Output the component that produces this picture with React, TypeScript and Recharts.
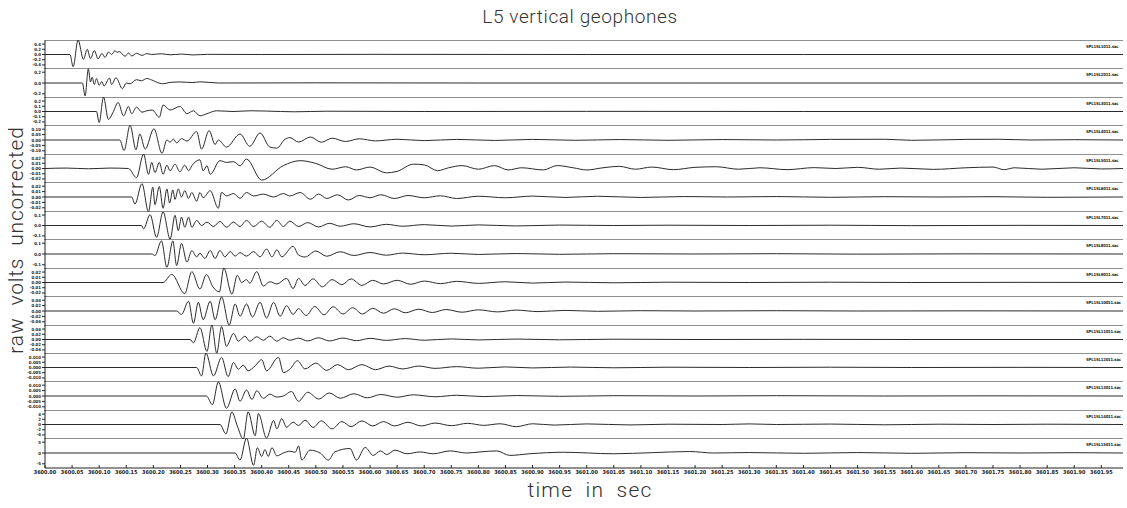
import React from 'react';
import { LineChart, Line, XAxis, YAxis } from 'recharts';

// time origin (s); trace samples are [ms after T0, normalized amplitude]
const T0 = 3600;

const X_TICKS = [
  3600.0, 3600.05, 3600.1, 3600.15, 3600.2, 3600.25, 3600.3, 3600.35, 3600.4, 3600.45,
  3600.5, 3600.55, 3600.6, 3600.65, 3600.7, 3600.75, 3600.8, 3600.85, 3600.9, 3600.95,
  3601.0, 3601.05, 3601.1, 3601.15, 3601.2, 3601.25, 3601.3, 3601.35, 3601.4, 3601.45,
  3601.5, 3601.55, 3601.6, 3601.65, 3601.7, 3601.75, 3601.8, 3601.85, 3601.9, 3601.95,
];

const STATIONS = [
  'SPL1SL1011.sac', 'SPL1SL2011.sac', 'SPL1SL3011.sac', 'SPL1SL4011.sac', 'SPL1SL5011.sac',
  'SPL1SL6011.sac', 'SPL1SL7011.sac', 'SPL1SL8011.sac', 'SPL1SL9011.sac', 'SPL1SL10011.sac',
  'SPL1SL11011.sac', 'SPL1SL12011.sac', 'SPL1SL13011.sac', 'SPL1SL14011.sac', 'SPL1SL15011.sac',
];

const yLabels01 = ['0.4', '0.2', '0.0', '-0.2', '-0.4'];
const yLabels02 = ['0.2', '0.0', '-0.2'];
const yLabels03 = ['0.2', '0.1', '0.0', '-0.1', '-0.2'];
const yLabels04 = ['0.10', '0.05', '0.00', '-0.05', '-0.10'];
const yLabels05 = ['0.02', '0.01', '0.00', '-0.01', '-0.02'];
const yLabels06 = ['0.02', '0.01', '0.00', '-0.01', '-0.02'];
const yLabels07 = ['0.1', '0.0', '-0.1'];
const yLabels08 = ['0.1', '0.0', '-0.1'];
const yLabels09 = ['0.02', '0.01', '0.00', '-0.01', '-0.02'];
const yLabels10 = ['0.04', '0.02', '0.00', '-0.02', '-0.04'];
const yLabels11 = ['0.04', '0.02', '0.00', '-0.02', '-0.04'];
const yLabels12 = ['0.010', '0.005', '0.000', '-0.005', '-0.010'];
const yLabels13 = ['0.010', '0.005', '0.000', '-0.005', '-0.010'];
const yLabels14 = ['4', '2', '0', '-2', '-4'];
const yLabels15 = ['5', '0', '-5'];

type Pt = [number, number];

const trace01: Pt[] = [[0,0],[46,0],[52,-0.84],[61,1.0],[71,-0.33],[78,0.36],[84,-0.29],[91,0.27],[98,-0.3],[105,0.07],[111,-0.2],[117,0.17],[123,0.0],[129,0.26],[133,0.15],[137,0.2],[148,-0.12],[154,0.1],[160,-0.1],[169,0.08],[179,-0.06],[188,0.06],[197,0],[215,0.05],[231,-0.02],[252,0.03],[273,-0.03],[300,0.01],[400,0],[600,0.01],[1000,0],[1400,0],[1990,0]];

const trace02: Pt[] = [[0,0],[69,0],[74,-0.86],[80,0.94],[84,0.07],[87,0.38],[91,-0.1],[95,0.3],[100,-0.15],[105,0.1],[109,-0.2],[119,0.33],[123,-0.1],[131,0.35],[143,-0.38],[150,0],[157,-0.05],[169,0.22],[178,0.15],[188,0.3],[197,0.2],[212,-0.02],[218,-0.05],[231,0.04],[249,0.07],[273,0.03],[286,0.08],[320,0],[500,0.01],[800,0],[1200,0],[1990,0]];

const trace03: Pt[] = [[0,0],[95,0],[100,-0.76],[108,1.0],[117,-0.55],[125,-0.1],[135,0.62],[145,-0.3],[154,0.35],[160,-0.15],[169,0.3],[179,-0.05],[188,0.05],[198,0.1],[211,-0.4],[218,0.45],[231,0.1],[249,0.35],[262,-0.15],[274,0.05],[286,-0.3],[299,-0.15],[317,0.05],[347,0],[380,0.05],[409,0.03],[460,-0.02],[520,0.02],[700,0],[1000,0.01],[1400,0],[1990,0]];

const trace04: Pt[] = [[0,0],[138,0],[146,-0.7],[157,0.98],[168,-0.65],[175,0.4],[185,-0.61],[201,0.75],[216,-0.89],[225,0],[231,-0.14],[237,0.05],[243,-0.19],[252,0.09],[262,-0.07],[280,0.56],[289,-0.61],[303,0.63],[314,-0.3],[320,0],[335,-0.47],[360,0.4],[378,-0.42],[397,0.47],[415,-0.47],[428,-0.54],[443,0.05],[452,0.16],[468,-0.14],[490,0.2],[510,-0.15],[530,0.12],[555,-0.1],[580,0.08],[610,-0.06],[650,0.05],[700,-0.04],[760,0.04],[830,-0.03],[900,0.04],[980,-0.02],[1060,0.03],[1150,-0.02],[1250,0.03],[1350,0],[1450,0.04],[1550,0.05],[1600,-0.02],[1700,0.04],[1760,0.05],[1820,0],[1900,0.02],[1990,0]];

const trace05: Pt[] = [[0,0],[40,0.03],[80,-0.02],[120,0.03],[154,0],[169,-0.63],[182,1.0],[191,-0.4],[197,0.42],[203,-0.28],[211,0.42],[218,-0.4],[225,0.23],[231,-0.16],[240,0.3],[249,-0.23],[258,0.23],[265,-0.16],[271,0.19],[286,0.6],[292,-0.16],[299,0.19],[305,-0.4],[323,0.54],[335,0.42],[348,0.47],[360,0.19],[372,0.65],[400,-0.8],[440,0.2],[471,0.54],[500,0.35],[530,-0.05],[555,0.12],[575,-0.1],[600,0.1],[630,-0.3],[650,-0.2],[680,0.3],[700,0.25],[725,-0.15],[745,0.05],[770,0.2],[800,-0.05],[830,0.2],[855,-0.1],[880,0.05],[920,-0.1],[945,0.2],[975,0.05],[1000,-0.1],[1030,0.05],[1060,0.15],[1090,-0.05],[1120,0.1],[1160,-0.08],[1200,0.08],[1240,0.12],[1280,-0.05],[1320,0.05],[1370,-0.08],[1420,0.06],[1460,0.0],[1500,0.08],[1540,-0.05],[1580,0.03],[1640,-0.06],[1700,0.05],[1750,0.1],[1770,-0.08],[1790,0.05],[1840,-0.05],[1900,0.05],[1950,-0.03],[1990,0]];

const trace06: Pt[] = [[0,0],[160,0],[166,-0.47],[179,0.89],[191,-0.98],[199,0.65],[203,-0.51],[211,0.7],[218,-0.75],[225,0.54],[230,-0.4],[236,0.47],[240,-0.16],[246,0.54],[252,0],[258,0.42],[265,-0.09],[271,0.3],[280,-0.28],[286,0.3],[292,-0.05],[305,0.42],[320,-0.75],[326,0.3],[335,0.07],[348,0.23],[360,-0.09],[372,0.3],[385,0.07],[403,0.19],[422,0],[440,0.23],[452,0.07],[471,0.3],[490,-0.15],[505,0.2],[520,-0.1],[540,0.15],[560,-0.2],[580,0.1],[600,-0.05],[620,0.15],[645,-0.1],[670,0.1],[700,-0.05],[730,0.08],[760,-0.1],[800,0.05],[850,-0.05],[900,0.06],[960,-0.03],[1020,0.05],[1100,-0.03],[1180,0.03],[1260,0],[1350,0.03],[1450,-0.02],[1550,0.02],[1650,0],[1750,0.02],[1850,-0.02],[1990,0]];

const trace07: Pt[] = [[0,0],[178,0],[182,-0.23],[194,0.75],[206,-0.82],[218,0.94],[231,-0.94],[240,0.7],[246,-0.35],[252,0.58],[258,-0.12],[265,0.58],[271,-0.12],[280,0.35],[289,0],[299,0.23],[311,-0.07],[323,0.28],[335,-0.12],[348,0.23],[360,-0.07],[372,0.35],[385,-0.07],[400,0.3],[415,-0.12],[428,0.35],[440,-0.07],[452,0.3],[468,-0.07],[485,0.2],[505,-0.1],[525,0.15],[545,-0.05],[570,0.12],[600,-0.1],[630,0.08],[660,-0.05],[700,0.06],[750,-0.04],[800,0.04],[870,-0.03],[950,0.03],[1050,0],[1150,0.02],[1300,0],[1450,0.02],[1600,-0.01],[1800,0.01],[1990,0]];

const trace08: Pt[] = [[0,0],[197,0],[203,-0.1],[215,0.87],[225,-0.89],[236,0.87],[243,-0.77],[252,0.7],[262,-0.54],[271,0.23],[280,-0.19],[286,0.05],[295,-0.3],[305,0.23],[314,-0.3],[323,0.23],[332,-0.19],[342,0.16],[351,-0.14],[360,0.09],[372,-0.14],[385,0.16],[397,-0.19],[409,0.33],[419,-0.19],[428,0.28],[437,-0.19],[458,0.51],[468,-0.07],[480,-0.2],[500,0.2],[520,-0.15],[545,0.15],[570,-0.1],[600,0.1],[630,-0.08],[660,0.06],[700,-0.05],[750,0.05],[800,-0.03],[870,0.03],[950,-0.02],[1050,0.02],[1200,0],[1350,0.02],[1500,-0.01],[1700,0.01],[1990,0]];

const trace09: Pt[] = [[0,0],[218,0],[234,0.56],[258,-0.77],[271,0.75],[286,-0.45],[298,0.55],[310,-0.3],[322,-0.65],[330,1.0],[345,-0.8],[355,0.5],[363,0.0],[372,0.2],[378,-0.05],[391,0.75],[403,-0.25],[415,0.05],[428,-0.1],[446,0.28],[458,-0.42],[468,0.28],[480,-0.2],[495,0.25],[512,-0.3],[530,0.2],[548,-0.15],[565,0.25],[585,-0.2],[605,0.15],[625,-0.1],[650,0.15],[675,-0.12],[700,0.1],[730,-0.08],[760,0.08],[800,-0.06],[850,0.05],[900,-0.04],[960,0.03],[1050,-0.02],[1150,0.02],[1300,0],[1450,0.02],[1600,0],[1800,0.01],[1990,0]];

const trace10: Pt[] = [[0,0],[243,0],[252,-0.23],[265,0.65],[274,-0.82],[283,0.58],[292,-0.58],[305,0.65],[314,-0.58],[326,0.94],[340,-0.94],[351,0.47],[360,-0.35],[372,0.47],[383,-0.4],[397,0.58],[409,-0.47],[422,0.58],[434,-0.35],[446,0.35],[458,-0.23],[468,0.16],[482,-0.3],[498,0.3],[515,-0.25],[532,0.28],[550,-0.2],[568,0.22],[586,-0.2],[605,0.18],[625,-0.15],[645,0.15],[665,-0.12],[690,0.12],[715,-0.1],[740,0.1],[770,-0.08],[800,0.08],[835,-0.06],[870,0.06],[910,-0.04],[960,0.04],[1020,-0.02],[1100,0.02],[1200,0],[1350,0.02],[1500,0],[1700,0.01],[1990,0]];

const trace11: Pt[] = [[0,0],[268,0],[274,-0.23],[286,0.82],[299,-0.82],[308,1.0],[317,-0.94],[326,0.89],[335,-0.47],[348,0.42],[357,-0.12],[369,0.23],[378,-0.12],[391,0.19],[403,-0.05],[415,0.23],[428,-0.12],[440,0.12],[452,-0.05],[468,0.09],[485,-0.1],[505,0.12],[525,-0.1],[550,0.1],[575,-0.08],[600,0.08],[630,-0.06],[665,0.06],[700,-0.05],[750,0.04],[800,-0.03],[870,0.03],[950,-0.02],[1050,0.02],[1200,0],[1400,0.01],[1600,0],[1990,0]];

const trace12: Pt[] = [[0,0],[280,0],[289,-0.58],[297,1.0],[311,-0.58],[326,0.7],[338,-0.63],[348,0.35],[357,-0.12],[366,0.16],[375,-0.23],[388,0.12],[400,0.54],[409,-0.23],[431,0.7],[440,-0.35],[452,-0.12],[466,0.47],[480,-0.1],[500,0.3],[520,-0.2],[540,0.2],[560,-0.15],[585,0.2],[610,-0.15],[635,0.1],[660,-0.1],[690,0.1],[720,-0.06],[760,0.06],[800,-0.05],[850,0.04],[900,-0.03],[970,0.03],[1050,-0.02],[1150,0.02],[1300,0],[1450,0.02],[1600,0],[1800,0.01],[1990,0]];

const trace13: Pt[] = [[0,0],[298,0],[309,-0.58],[320,0.94],[335,-0.82],[351,0.47],[360,-0.35],[372,0.4],[382,-0.23],[391,0.35],[403,-0.16],[415,0.12],[428,-0.07],[440,0],[455,0.3],[468,-0.35],[485,0.25],[505,-0.2],[525,0.2],[545,-0.15],[570,0.15],[595,-0.12],[620,0.1],[650,-0.08],[680,0.08],[720,-0.05],[760,0.05],[810,-0.04],[870,0.03],[950,-0.02],[1050,0.02],[1200,0],[1350,0.02],[1550,0],[1750,0.01],[1990,0]];

const trace14: Pt[] = [[0,0],[323,0],[334,-0.65],[345,0.87],[355,-0.1],[366,-1.0],[375,0.87],[388,-0.77],[394,0.75],[409,-0.94],[422,0.28],[428,-0.3],[437,0.4],[446,-0.19],[458,0.16],[468,-0.07],[480,0.3],[495,-0.2],[510,0.25],[530,-0.3],[548,0.2],[565,-0.15],[585,0.25],[605,-0.1],[625,0.2],[645,-0.1],[670,0.15],[695,-0.1],[720,0.1],[750,-0.08],[780,0.08],[810,-0.06],[840,0.05],[870,-0.15],[900,0.05],[940,-0.04],[1000,0.04],[1080,-0.03],[1150,0.02],[1250,0],[1300,0.04],[1350,0],[1450,0.03],[1550,-0.02],[1650,0.02],[1750,0],[1850,0.02],[1990,0]];

const trace15: Pt[] = [[0,0],[351,0],[360,-0.47],[372,1.0],[385,-0.82],[392,0.35],[400,-0.23],[406,0.23],[412,-0.23],[419,0.35],[428,-0.19],[440,0],[452,0.12],[462,0.05],[468,0.47],[474,-0.47],[489,0.19],[508,0],[523,-0.47],[535,0.07],[563,0.3],[575,-0.47],[591,0.37],[606,-0.16],[619,0.14],[631,-0.1],[646,0.19],[668,-0.05],[692,0.07],[717,-0.05],[748,0.14],[778,0],[803,0.07],[834,0.14],[858,-0.16],[895,-0.05],[957,0.05],[1049,-0.05],[1120,0.02],[1190,0.1],[1234,0],[1300,0.03],[1400,-0.02],[1500,0.03],[1600,-0.02],[1700,0.02],[1800,0],[1900,0.02],[1990,0]];

const TRACES = [trace01, trace02, trace03, trace04, trace05, trace06, trace07, trace08, trace09, trace10, trace11, trace12, trace13, trace14, trace15];
const Y_LABELS = [yLabels01, yLabels02, yLabels03, yLabels04, yLabels05, yLabels06, yLabels07, yLabels08, yLabels09, yLabels10, yLabels11, yLabels12, yLabels13, yLabels14, yLabels15];

const W = 1127;
const LEFT = 45;
const RIGHT_W = 4;
const TOP0 = 41;
const PANEL_H = 28.45;
const INK = '#222';
const FONT = 'Roboto, "Open Sans", sans-serif';
const TICK_FONT = '"DejaVu Sans Condensed", "DejaVu Sans", sans-serif';

function Panel({ idx }: { idx: number }) {
  const top = Math.round(TOP0 + idx * PANEL_H);
  const next = Math.round(TOP0 + (idx + 1) * PANEL_H);
  const h = next - top;
  const last = idx === TRACES.length - 1;
  const rows = TRACES[idx].map(([ms, v]) => ({ t: T0 + ms / 1000, v }));
  const labels = Y_LABELS[idx];
  const n = labels.length;
  const yTicks = labels.map((_, k) => 0.72 - (k * 1.44) / (n - 1));
  const bottomH = last ? 14 : 0;
  return (
    <div style={{ position: 'absolute', left: 0, top: top - 1 }}>
      <LineChart
        width={W}
        height={h + 1 + bottomH + (last ? 1 : 0)}
        data={rows}
        margin={{ top: 0, right: 0, bottom: last ? 1 : 0, left: 0 }}
      >
        <XAxis
          xAxisId="top"
          orientation="top"
          type="number"
          dataKey="t"
          domain={[3600, 3601.99]}
          allowDataOverflow
          ticks={X_TICKS}
          interval={0}
          height={1}
          mirror
          tick={false}
          tickSize={3}
          stroke={INK}
        />
        {last && (
          <XAxis
            xAxisId="bottom"
            orientation="bottom"
            type="number"
            dataKey="t"
            domain={[3600, 3601.99]}
            allowDataOverflow
            ticks={X_TICKS}
            interval={0}
            height={bottomH}
            tickSize={-3}
            tickMargin={5}
            tickFormatter={(v: number) => v.toFixed(2)}
            tick={{ fontSize: 5.5, fill: INK, fontWeight: 700, fontFamily: TICK_FONT }}
            stroke={INK}
          />
        )}
        <YAxis
          yAxisId="left"
          type="number"
          domain={[-1, 1]}
          allowDataOverflow
          ticks={yTicks}
          interval={0}
          width={LEFT}
          tickSize={3}
          tickMargin={1}
          tickFormatter={(_v: number, i: number) => labels[i]}
          tick={{ fontSize: 4.3, fill: INK, fontWeight: 700, fontFamily: TICK_FONT }}
          stroke={INK}
        />
        <YAxis
          yAxisId="right"
          orientation="right"
          type="number"
          domain={[-1, 1]}
          ticks={[-0.8, -0.4, 0, 0.4, 0.8]}
          interval={0}
          width={RIGHT_W}
          tick={false}
          tickSize={2}
          axisLine={false}
          stroke={INK}
        />
        <Line
          xAxisId="top"
          yAxisId="left"
          dataKey="v"
          type="monotone"
          stroke="#2b2b2b"
          strokeWidth={1}
          dot={false}
          isAnimationActive={false}
        />
      </LineChart>
      <div
        style={{
          position: 'absolute',
          left: 1086,
          top: 5,
          fontSize: 4.2,
          fontWeight: 700,
          color: INK,
          fontFamily: TICK_FONT,
          whiteSpace: 'nowrap',
          letterSpacing: -0.15,
          lineHeight: 1,
        }}
      >
        {STATIONS[idx]}
      </div>
    </div>
  );
}

export default function App() {
  return (
    <div style={{ position: 'absolute', left: 0, top: 0, width: W, height: 508, background: '#fff', overflow: 'hidden', fontFamily: FONT }}>
      <div style={{ position: 'absolute', left: 0, width: 1160, top: 5, textAlign: 'center', fontSize: 19, fontWeight: 300, color: '#333', letterSpacing: 0.6 }}>
        L5 vertical geophones
      </div>
      <div style={{ position: 'absolute', left: 0, width: 1180, top: 478, textAlign: 'center', fontSize: 21, fontWeight: 300, color: '#333', letterSpacing: 1.2, wordSpacing: 6 }}>
        time in sec
      </div>
      <div
        style={{
          position: 'absolute',
          left: 16,
          top: 240,
          transform: 'translate(-50%, -50%) rotate(-90deg)',
          fontSize: 21,
          fontWeight: 300,
          color: '#333',
          whiteSpace: 'nowrap',
          letterSpacing: 0.8,
          wordSpacing: 6,
        }}
      >
        raw volts uncorrected
      </div>
      {TRACES.map((_, i) => (
        <Panel key={i} idx={i} />
      ))}
    </div>
  );
}
